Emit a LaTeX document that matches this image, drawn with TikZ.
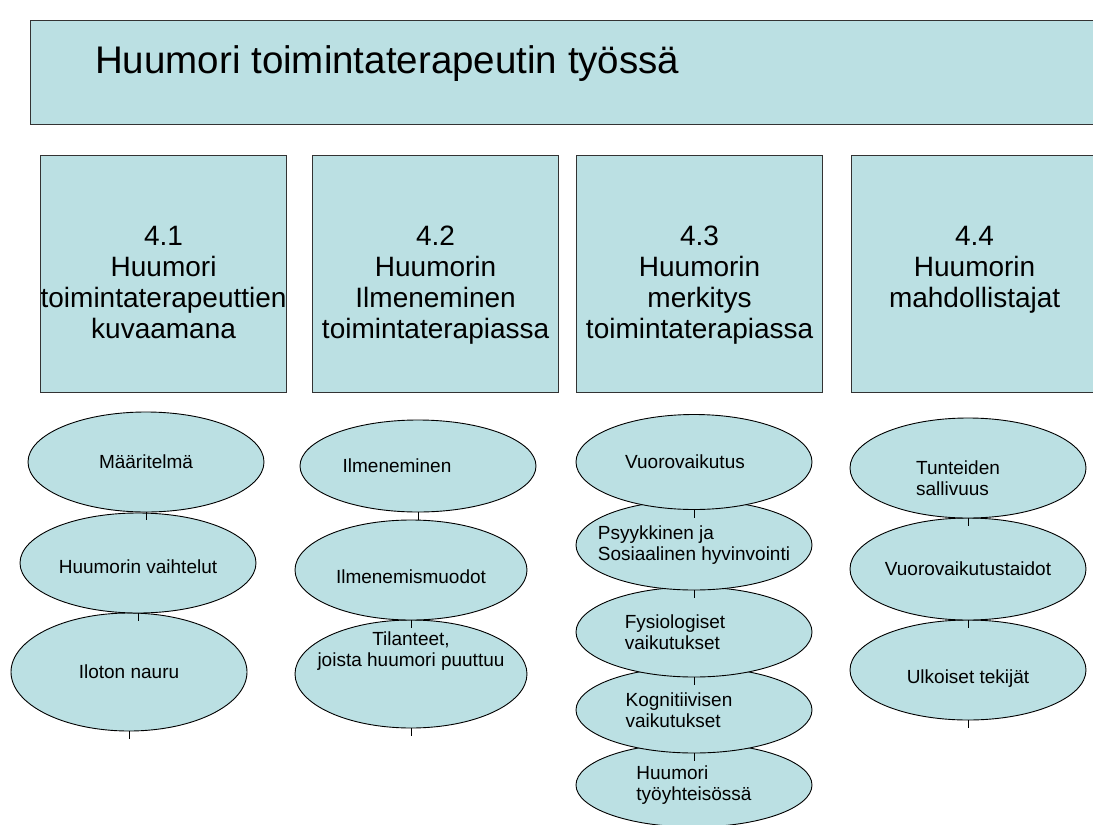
\documentclass[tikz,border=0pt]{standalone}
\usepackage{fontspec}
\setmainfont{Liberation Sans}
\usetikzlibrary{shapes.geometric}
\definecolor{ocean}{RGB}{187,224,227}

\begin{document}
\begin{tikzpicture}[x=1pt,y=-1pt,
    box/.style={draw=black!80,fill=ocean,line width=1.2pt,anchor=north west,minimum height=237pt,minimum width=246pt},
    head/.style={font=\fontsize{28}{31}\selectfont,align=center,anchor=north,inner sep=0pt},
    oval/.style={ellipse,draw=black,fill=ocean,line width=0.9pt,inner xsep=-60pt,inner ysep=-40pt,minimum width=236pt,align=left,font=\fontsize{19}{21.5}\selectfont}]

    \useasboundingbox (0,0) rectangle (1093,825);

    % title
    \node[box,minimum width=1100pt,minimum height=104pt] (title) at (30,20) {};
    \node[anchor=base west,inner sep=0pt,font=\fontsize{38.5}{44}\selectfont] (titletext) at (95,73) {Huumori toimintaterapeutin työssä};

    % chapters
    \node[box] (b1) at (40,155) {};
    \node[box] (b2) at (312,155) {};
    \node[box] (b3) at (576,155) {};
    \node[box] (b4) at (851,155) {};
    \node[head] (h1) at ([yshift=-71pt]b1.north) {4.1\\Huumori\\toimintaterapeuttien\\kuvaamana};
    \node[head] (h2) at ([yshift=-71pt]b2.north) {4.2\\Huumorin\\Ilmeneminen\\toimintaterapiassa};
    \node[head] (h3) at ([yshift=-71pt]b3.north) {4.3\\Huumorin\\merkitys\\toimintaterapiassa};
    \node[head] (h4) at ([yshift=-71pt]b4.north) {4.4\\Huumorin\\mahdollistajat};

    % 4.1
    \node[oval,minimum height=118pt] (m3) at (129,672) {Iloton nauru};
    \node[oval,minimum height=100pt,text height=22pt] (m2) at (138,563) {Huumorin vaihtelut};
    \node[oval,minimum height=100pt] (m1) at (146,462) {Määritelmä};

    % 4.2
    \node[oval,minimum width=232pt,minimum height=108pt,align=center,text depth=50pt] (i3) at (411,674) {Tilanteet,\\joista huumori puuttuu};
    \node[oval,minimum width=232pt,minimum height=100pt,text height=28pt] (i2) at (411,570) {Ilmenemismuodot};
    \node[oval,minimum height=92pt] (i1) at (418,466) {Ilmeneminen\hspace*{42pt}};

    % 4.3
    \node[oval,minimum height=84pt] (v5) at (694,785) {Huumori\\työyhteisössä};
    \node[oval,minimum height=86pt] (v4) at (694,710) {Kognitiivisen\hspace*{30pt}\\vaikutukset};
    \node[oval,minimum height=90pt] (v3) at (694,632) {Fysiologiset\hspace*{38pt}\\vaikutukset};
    \node[oval,minimum height=90pt] (v2) at (694,545) {Psyykkinen ja\\Sosiaalinen hyvinvointi};
    \node[oval,minimum height=95pt] (v1) at (694,462) {Vuorovaikutus\hspace*{18pt}};

    % 4.4
    \node[oval,minimum height=100pt,text height=30pt] (u3) at (968,670) {Ulkoiset tekijät};
    \node[oval,minimum height=102pt] (u2) at (968,569) {Vuorovaikutustaidot};
    \node[oval,minimum height=100pt,text height=56pt] (u1) at (968,468) {Tunteiden\hspace*{20pt}\\sallivuus};

    % short ticks under the ovals
    \foreach \n in {m1,m2,m3,i1,i2,i3,v1,v2,v3,v4,v5,u1,u2,u3} {
      \coordinate (\n end) at ([yshift=-8pt]\n.south);
      \draw[line width=0.9pt] (\n.south) -- (\n end);
    }
\end{tikzpicture}
\end{document}
